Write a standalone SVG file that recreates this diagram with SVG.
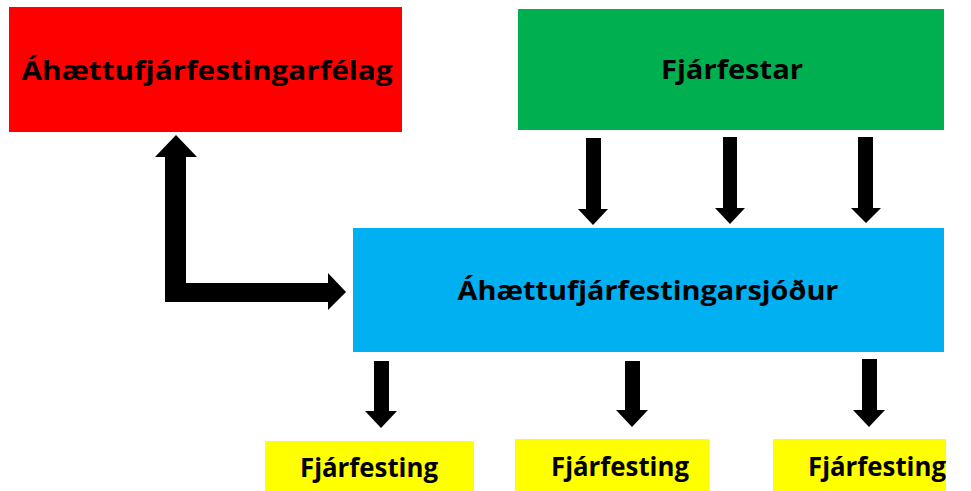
<svg xmlns="http://www.w3.org/2000/svg" width="971" height="491" viewBox="0 0 971 491">
<style>
.lbl{font-family:"Open Sans",Lato,"Liberation Sans",sans-serif;font-weight:bold;font-size:27px;fill:#000;text-anchor:middle}
.arr{fill:#000}
</style>
<rect width="971" height="491" fill="#fff"/>
<g id="node-vcfirm"><rect x="9" y="7" width="393" height="125" fill="#FF0000"/><text class="lbl" x="207" y="80" textLength="371" lengthAdjust="spacingAndGlyphs">Áhættufjárfestingarfélag</text></g>
<g id="node-investors"><rect x="518" y="9" width="426" height="121" fill="#00B050"/><text class="lbl" x="732" y="79" textLength="142" lengthAdjust="spacingAndGlyphs">Fjárfestar</text></g>
<g id="node-fund"><rect x="353" y="228" width="591" height="124" fill="#00B0F0"/><text class="lbl" x="648" y="300" textLength="381" lengthAdjust="spacingAndGlyphs">Áhættufjárfestingarsjóður</text></g>
<g id="node-inv1"><rect x="265" y="441" width="209" height="50" fill="#FFFF00"/><text class="lbl" x="369" y="477" textLength="138" lengthAdjust="spacingAndGlyphs">Fjárfesting</text></g>
<g id="node-inv2"><rect x="515" y="439" width="194" height="52" fill="#FFFF00"/><text class="lbl" x="620" y="476" textLength="138" lengthAdjust="spacingAndGlyphs">Fjárfesting</text></g>
<g id="node-inv3"><rect x="773" y="439" width="173" height="52" fill="#FFFF00"/><text class="lbl" x="877" y="476" textLength="138" lengthAdjust="spacingAndGlyphs">Fjárfesting</text></g>
<g id="connectors">
<path class="arr" d="M165,302 L165,157 L155,157 L176,135 L197,157 L186,157 L186,283 L328,283 L328,273 L346,292 L328,310 L328,302 Z"/>
<path class="arr" d="M586,138 L601,138 L601,209 L608,209 L593,225 L578,209 L586,209 Z"/>
<path class="arr" d="M723,137 L737,137 L737,208 L745,208 L730,224 L715,208 L723,208 Z"/>
<path class="arr" d="M858,137 L873,137 L873,208 L881,208 L866,223 L851,208 L858,208 Z"/>
<path class="arr" d="M374,361 L389,361 L389,411 L397,411 L381,428 L365,411 L374,411 Z"/>
<path class="arr" d="M625,361 L640,361 L640,410 L648,410 L632,427 L616,410 L625,410 Z"/>
<path class="arr" d="M862,359 L877,359 L877,410 L885,410 L869,427 L853,410 L862,410 Z"/>
</g>
</svg>
